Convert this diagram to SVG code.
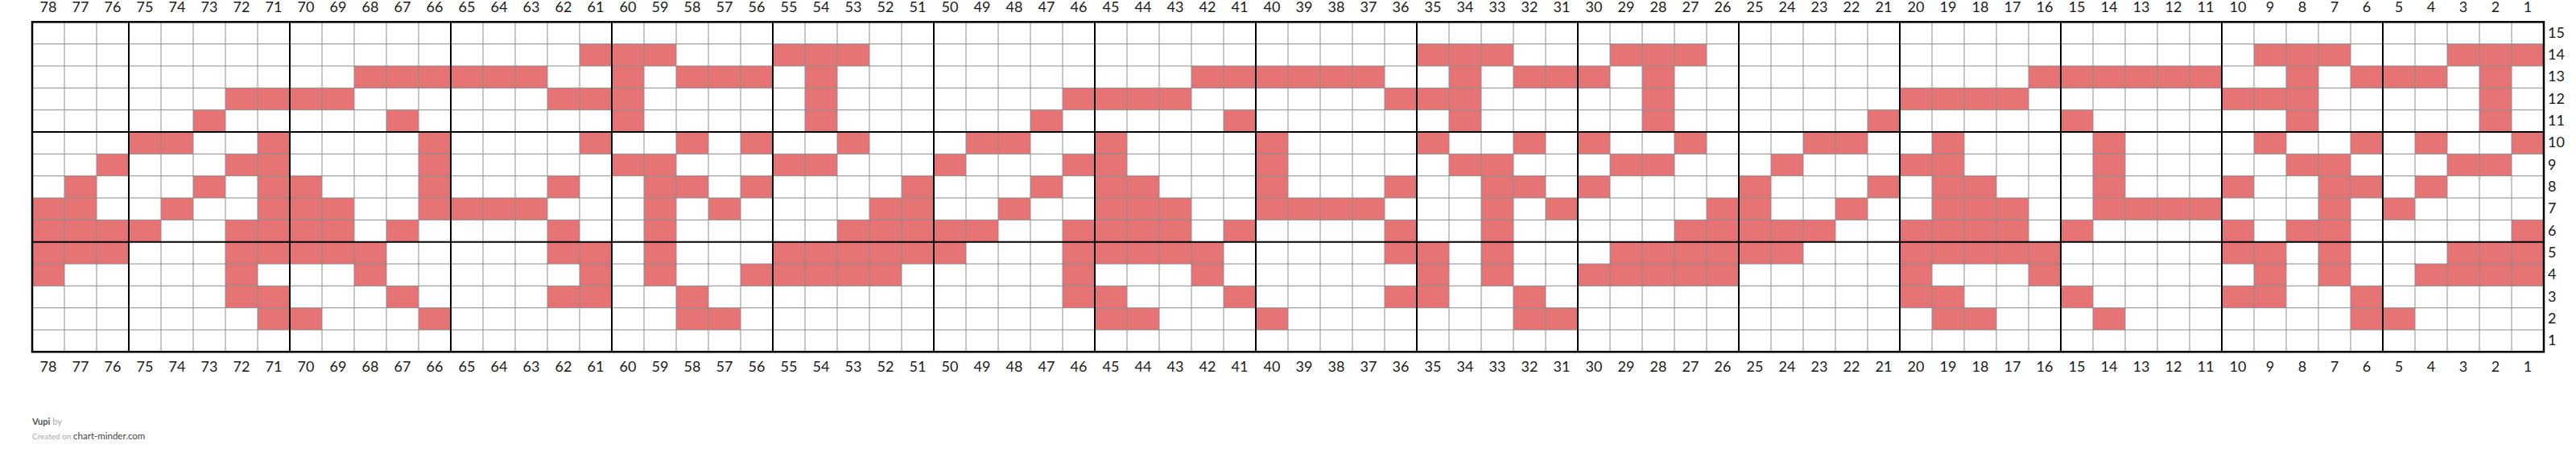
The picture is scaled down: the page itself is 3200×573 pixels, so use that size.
<svg xmlns="http://www.w3.org/2000/svg" width="3200" height="573" viewBox="0 0 3200 573">
<style>
.f{fill:#e57373}
.thin{stroke:#8c8c8c;stroke-width:1;fill:none}
.thick{stroke:#000;stroke-width:2;fill:none}
.lbl{font-family:Lato,"Liberation Sans",sans-serif;font-size:18px;fill:#1a1a1a}
.ct{text-anchor:middle}
.ft{font-family:Lato,"Liberation Sans",sans-serif}
</style>
<defs><rect id="c" width="40" height="27.333"/></defs>
<rect x="0" y="0" width="3200" height="573" fill="#fff"/>
<g id="cells" class="f">
<g id="row14" transform="translate(0,54.667)"><use href="#c" x="720"/><use href="#c" x="760"/><use href="#c" x="800"/><use href="#c" x="960"/><use href="#c" x="1000"/><use href="#c" x="1040"/><use href="#c" x="1760"/><use href="#c" x="1800"/><use href="#c" x="1840"/><use href="#c" x="2000"/><use href="#c" x="2040"/><use href="#c" x="2080"/><use href="#c" x="2800"/><use href="#c" x="2840"/><use href="#c" x="2880"/><use href="#c" x="3040"/><use href="#c" x="3080"/><use href="#c" x="3120"/></g>
<g id="row13" transform="translate(0,82)"><use href="#c" x="440"/><use href="#c" x="480"/><use href="#c" x="520"/><use href="#c" x="560"/><use href="#c" x="600"/><use href="#c" x="640"/><use href="#c" x="760"/><use href="#c" x="840"/><use href="#c" x="880"/><use href="#c" x="920"/><use href="#c" x="1000"/><use href="#c" x="1480"/><use href="#c" x="1520"/><use href="#c" x="1560"/><use href="#c" x="1600"/><use href="#c" x="1640"/><use href="#c" x="1680"/><use href="#c" x="1800"/><use href="#c" x="1880"/><use href="#c" x="1920"/><use href="#c" x="1960"/><use href="#c" x="2040"/><use href="#c" x="2520"/><use href="#c" x="2560"/><use href="#c" x="2600"/><use href="#c" x="2640"/><use href="#c" x="2680"/><use href="#c" x="2720"/><use href="#c" x="2840"/><use href="#c" x="2920"/><use href="#c" x="2960"/><use href="#c" x="3000"/><use href="#c" x="3080"/></g>
<g id="row12" transform="translate(0,109.333)"><use href="#c" x="280"/><use href="#c" x="320"/><use href="#c" x="360"/><use href="#c" x="400"/><use href="#c" x="680"/><use href="#c" x="720"/><use href="#c" x="760"/><use href="#c" x="1000"/><use href="#c" x="1320"/><use href="#c" x="1360"/><use href="#c" x="1400"/><use href="#c" x="1440"/><use href="#c" x="1720"/><use href="#c" x="1760"/><use href="#c" x="1800"/><use href="#c" x="2040"/><use href="#c" x="2360"/><use href="#c" x="2400"/><use href="#c" x="2440"/><use href="#c" x="2480"/><use href="#c" x="2760"/><use href="#c" x="2800"/><use href="#c" x="2840"/><use href="#c" x="3080"/></g>
<g id="row11" transform="translate(0,136.667)"><use href="#c" x="240"/><use href="#c" x="480"/><use href="#c" x="760"/><use href="#c" x="1000"/><use href="#c" x="1280"/><use href="#c" x="1520"/><use href="#c" x="1800"/><use href="#c" x="2040"/><use href="#c" x="2320"/><use href="#c" x="2560"/><use href="#c" x="2840"/><use href="#c" x="3080"/></g>
<g id="row10" transform="translate(0,164)"><use href="#c" x="160"/><use href="#c" x="200"/><use href="#c" x="320"/><use href="#c" x="520"/><use href="#c" x="720"/><use href="#c" x="840"/><use href="#c" x="920"/><use href="#c" x="1040"/><use href="#c" x="1200"/><use href="#c" x="1240"/><use href="#c" x="1360"/><use href="#c" x="1560"/><use href="#c" x="1760"/><use href="#c" x="1880"/><use href="#c" x="1960"/><use href="#c" x="2080"/><use href="#c" x="2240"/><use href="#c" x="2280"/><use href="#c" x="2400"/><use href="#c" x="2600"/><use href="#c" x="2800"/><use href="#c" x="2920"/><use href="#c" x="3000"/><use href="#c" x="3120"/></g>
<g id="row9" transform="translate(0,191.333)"><use href="#c" x="120"/><use href="#c" x="280"/><use href="#c" x="320"/><use href="#c" x="520"/><use href="#c" x="760"/><use href="#c" x="800"/><use href="#c" x="960"/><use href="#c" x="1000"/><use href="#c" x="1160"/><use href="#c" x="1320"/><use href="#c" x="1360"/><use href="#c" x="1560"/><use href="#c" x="1800"/><use href="#c" x="1840"/><use href="#c" x="2000"/><use href="#c" x="2040"/><use href="#c" x="2200"/><use href="#c" x="2360"/><use href="#c" x="2400"/><use href="#c" x="2600"/><use href="#c" x="2840"/><use href="#c" x="2880"/><use href="#c" x="3040"/><use href="#c" x="3080"/></g>
<g id="row8" transform="translate(0,218.667)"><use href="#c" x="80"/><use href="#c" x="240"/><use href="#c" x="320"/><use href="#c" x="360"/><use href="#c" x="520"/><use href="#c" x="680"/><use href="#c" x="800"/><use href="#c" x="840"/><use href="#c" x="920"/><use href="#c" x="1120"/><use href="#c" x="1280"/><use href="#c" x="1360"/><use href="#c" x="1400"/><use href="#c" x="1560"/><use href="#c" x="1720"/><use href="#c" x="1840"/><use href="#c" x="1880"/><use href="#c" x="1960"/><use href="#c" x="2160"/><use href="#c" x="2320"/><use href="#c" x="2400"/><use href="#c" x="2440"/><use href="#c" x="2600"/><use href="#c" x="2760"/><use href="#c" x="2880"/><use href="#c" x="2920"/><use href="#c" x="3000"/></g>
<g id="row7" transform="translate(0,246)"><use href="#c" x="40"/><use href="#c" x="80"/><use href="#c" x="200"/><use href="#c" x="320"/><use href="#c" x="360"/><use href="#c" x="400"/><use href="#c" x="520"/><use href="#c" x="560"/><use href="#c" x="600"/><use href="#c" x="640"/><use href="#c" x="800"/><use href="#c" x="880"/><use href="#c" x="1080"/><use href="#c" x="1120"/><use href="#c" x="1240"/><use href="#c" x="1360"/><use href="#c" x="1400"/><use href="#c" x="1440"/><use href="#c" x="1560"/><use href="#c" x="1600"/><use href="#c" x="1640"/><use href="#c" x="1680"/><use href="#c" x="1840"/><use href="#c" x="1920"/><use href="#c" x="2120"/><use href="#c" x="2160"/><use href="#c" x="2280"/><use href="#c" x="2400"/><use href="#c" x="2440"/><use href="#c" x="2480"/><use href="#c" x="2600"/><use href="#c" x="2640"/><use href="#c" x="2680"/><use href="#c" x="2720"/><use href="#c" x="2880"/><use href="#c" x="2960"/></g>
<g id="row6" transform="translate(0,273.333)"><use href="#c" x="40"/><use href="#c" x="80"/><use href="#c" x="120"/><use href="#c" x="160"/><use href="#c" x="280"/><use href="#c" x="320"/><use href="#c" x="360"/><use href="#c" x="400"/><use href="#c" x="480"/><use href="#c" x="680"/><use href="#c" x="800"/><use href="#c" x="1040"/><use href="#c" x="1080"/><use href="#c" x="1120"/><use href="#c" x="1160"/><use href="#c" x="1200"/><use href="#c" x="1320"/><use href="#c" x="1360"/><use href="#c" x="1400"/><use href="#c" x="1440"/><use href="#c" x="1520"/><use href="#c" x="1720"/><use href="#c" x="1840"/><use href="#c" x="2080"/><use href="#c" x="2120"/><use href="#c" x="2160"/><use href="#c" x="2200"/><use href="#c" x="2240"/><use href="#c" x="2360"/><use href="#c" x="2400"/><use href="#c" x="2440"/><use href="#c" x="2480"/><use href="#c" x="2560"/><use href="#c" x="2760"/><use href="#c" x="2840"/><use href="#c" x="2880"/><use href="#c" x="3120"/></g>
<g id="row5" transform="translate(0,300.667)"><use href="#c" x="40"/><use href="#c" x="80"/><use href="#c" x="120"/><use href="#c" x="280"/><use href="#c" x="320"/><use href="#c" x="360"/><use href="#c" x="400"/><use href="#c" x="440"/><use href="#c" x="680"/><use href="#c" x="720"/><use href="#c" x="800"/><use href="#c" x="960"/><use href="#c" x="1000"/><use href="#c" x="1040"/><use href="#c" x="1080"/><use href="#c" x="1120"/><use href="#c" x="1160"/><use href="#c" x="1320"/><use href="#c" x="1360"/><use href="#c" x="1400"/><use href="#c" x="1440"/><use href="#c" x="1480"/><use href="#c" x="1720"/><use href="#c" x="1760"/><use href="#c" x="1840"/><use href="#c" x="2000"/><use href="#c" x="2040"/><use href="#c" x="2080"/><use href="#c" x="2120"/><use href="#c" x="2160"/><use href="#c" x="2200"/><use href="#c" x="2360"/><use href="#c" x="2400"/><use href="#c" x="2440"/><use href="#c" x="2480"/><use href="#c" x="2520"/><use href="#c" x="2760"/><use href="#c" x="2800"/><use href="#c" x="2880"/><use href="#c" x="3040"/><use href="#c" x="3080"/><use href="#c" x="3120"/></g>
<g id="row4" transform="translate(0,328)"><use href="#c" x="40"/><use href="#c" x="280"/><use href="#c" x="440"/><use href="#c" x="720"/><use href="#c" x="800"/><use href="#c" x="920"/><use href="#c" x="960"/><use href="#c" x="1000"/><use href="#c" x="1040"/><use href="#c" x="1080"/><use href="#c" x="1320"/><use href="#c" x="1480"/><use href="#c" x="1760"/><use href="#c" x="1840"/><use href="#c" x="1960"/><use href="#c" x="2000"/><use href="#c" x="2040"/><use href="#c" x="2080"/><use href="#c" x="2120"/><use href="#c" x="2360"/><use href="#c" x="2520"/><use href="#c" x="2800"/><use href="#c" x="2880"/><use href="#c" x="3000"/><use href="#c" x="3040"/><use href="#c" x="3080"/><use href="#c" x="3120"/></g>
<g id="row3" transform="translate(0,355.333)"><use href="#c" x="280"/><use href="#c" x="320"/><use href="#c" x="480"/><use href="#c" x="680"/><use href="#c" x="720"/><use href="#c" x="840"/><use href="#c" x="1320"/><use href="#c" x="1360"/><use href="#c" x="1520"/><use href="#c" x="1720"/><use href="#c" x="1760"/><use href="#c" x="1880"/><use href="#c" x="2360"/><use href="#c" x="2400"/><use href="#c" x="2560"/><use href="#c" x="2760"/><use href="#c" x="2800"/><use href="#c" x="2920"/></g>
<g id="row2" transform="translate(0,382.667)"><use href="#c" x="320"/><use href="#c" x="360"/><use href="#c" x="520"/><use href="#c" x="840"/><use href="#c" x="880"/><use href="#c" x="1360"/><use href="#c" x="1400"/><use href="#c" x="1560"/><use href="#c" x="1880"/><use href="#c" x="1920"/><use href="#c" x="2400"/><use href="#c" x="2440"/><use href="#c" x="2600"/><use href="#c" x="2920"/><use href="#c" x="2960"/></g>
</g>
<g id="grid">
<path class="thin" d="M80 27.33v410M120 27.33v410M200 27.33v410M240 27.33v410M280 27.33v410M320 27.33v410M400 27.33v410M440 27.33v410M480 27.33v410M520 27.33v410M600 27.33v410M640 27.33v410M680 27.33v410M720 27.33v410M800 27.33v410M840 27.33v410M880 27.33v410M920 27.33v410M1000 27.33v410M1040 27.33v410M1080 27.33v410M1120 27.33v410M1200 27.33v410M1240 27.33v410M1280 27.33v410M1320 27.33v410M1400 27.33v410M1440 27.33v410M1480 27.33v410M1520 27.33v410M1600 27.33v410M1640 27.33v410M1680 27.33v410M1720 27.33v410M1800 27.33v410M1840 27.33v410M1880 27.33v410M1920 27.33v410M2000 27.33v410M2040 27.33v410M2080 27.33v410M2120 27.33v410M2200 27.33v410M2240 27.33v410M2280 27.33v410M2320 27.33v410M2400 27.33v410M2440 27.33v410M2480 27.33v410M2520 27.33v410M2600 27.33v410M2640 27.33v410M2680 27.33v410M2720 27.33v410M2800 27.33v410M2840 27.33v410M2880 27.33v410M2920 27.33v410M3000 27.33v410M3040 27.33v410M3080 27.33v410M3120 27.33v410"/>
<path class="thin" d="M40 54.67h3120M40 82h3120M40 109.33h3120M40 136.67h3120M40 191.33h3120M40 218.67h3120M40 246h3120M40 273.33h3120M40 328h3120M40 355.33h3120M40 382.67h3120M40 410h3120"/>
<path class="thick" d="M160 27.33v410M360 27.33v410M560 27.33v410M760 27.33v410M960 27.33v410M1160 27.33v410M1360 27.33v410M1560 27.33v410M1760 27.33v410M1960 27.33v410M2160 27.33v410M2360 27.33v410M2560 27.33v410M2760 27.33v410M2960 27.33v410M40 164h3120M40 300.67h3120"/>
<rect class="thick" x="40" y="27.33" width="3120" height="410" style="stroke-width:2.5"/>
</g>
<g id="col-labels-top" class="lbl ct">
<text x="60" y="15">78</text><text x="100" y="15">77</text><text x="140" y="15">76</text><text x="180" y="15">75</text><text x="220" y="15">74</text><text x="260" y="15">73</text><text x="300" y="15">72</text><text x="340" y="15">71</text><text x="380" y="15">70</text><text x="420" y="15">69</text><text x="460" y="15">68</text><text x="500" y="15">67</text><text x="540" y="15">66</text><text x="580" y="15">65</text><text x="620" y="15">64</text><text x="660" y="15">63</text><text x="700" y="15">62</text><text x="740" y="15">61</text><text x="780" y="15">60</text><text x="820" y="15">59</text><text x="860" y="15">58</text><text x="900" y="15">57</text><text x="940" y="15">56</text><text x="980" y="15">55</text><text x="1020" y="15">54</text><text x="1060" y="15">53</text><text x="1100" y="15">52</text><text x="1140" y="15">51</text><text x="1180" y="15">50</text><text x="1220" y="15">49</text><text x="1260" y="15">48</text><text x="1300" y="15">47</text><text x="1340" y="15">46</text><text x="1380" y="15">45</text><text x="1420" y="15">44</text><text x="1460" y="15">43</text><text x="1500" y="15">42</text><text x="1540" y="15">41</text><text x="1580" y="15">40</text><text x="1620" y="15">39</text><text x="1660" y="15">38</text><text x="1700" y="15">37</text><text x="1740" y="15">36</text><text x="1780" y="15">35</text><text x="1820" y="15">34</text><text x="1860" y="15">33</text><text x="1900" y="15">32</text><text x="1940" y="15">31</text><text x="1980" y="15">30</text><text x="2020" y="15">29</text><text x="2060" y="15">28</text><text x="2100" y="15">27</text><text x="2140" y="15">26</text><text x="2180" y="15">25</text><text x="2220" y="15">24</text><text x="2260" y="15">23</text><text x="2300" y="15">22</text><text x="2340" y="15">21</text><text x="2380" y="15">20</text><text x="2420" y="15">19</text><text x="2460" y="15">18</text><text x="2500" y="15">17</text><text x="2540" y="15">16</text><text x="2580" y="15">15</text><text x="2620" y="15">14</text><text x="2660" y="15">13</text><text x="2700" y="15">12</text><text x="2740" y="15">11</text><text x="2780" y="15">10</text><text x="2820" y="15">9</text><text x="2860" y="15">8</text><text x="2900" y="15">7</text><text x="2940" y="15">6</text><text x="2980" y="15">5</text><text x="3020" y="15">4</text><text x="3060" y="15">3</text><text x="3100" y="15">2</text><text x="3140" y="15">1</text>
</g>
<g id="col-labels-bottom" class="lbl ct">
<text x="60" y="461.5">78</text><text x="100" y="461.5">77</text><text x="140" y="461.5">76</text><text x="180" y="461.5">75</text><text x="220" y="461.5">74</text><text x="260" y="461.5">73</text><text x="300" y="461.5">72</text><text x="340" y="461.5">71</text><text x="380" y="461.5">70</text><text x="420" y="461.5">69</text><text x="460" y="461.5">68</text><text x="500" y="461.5">67</text><text x="540" y="461.5">66</text><text x="580" y="461.5">65</text><text x="620" y="461.5">64</text><text x="660" y="461.5">63</text><text x="700" y="461.5">62</text><text x="740" y="461.5">61</text><text x="780" y="461.5">60</text><text x="820" y="461.5">59</text><text x="860" y="461.5">58</text><text x="900" y="461.5">57</text><text x="940" y="461.5">56</text><text x="980" y="461.5">55</text><text x="1020" y="461.5">54</text><text x="1060" y="461.5">53</text><text x="1100" y="461.5">52</text><text x="1140" y="461.5">51</text><text x="1180" y="461.5">50</text><text x="1220" y="461.5">49</text><text x="1260" y="461.5">48</text><text x="1300" y="461.5">47</text><text x="1340" y="461.5">46</text><text x="1380" y="461.5">45</text><text x="1420" y="461.5">44</text><text x="1460" y="461.5">43</text><text x="1500" y="461.5">42</text><text x="1540" y="461.5">41</text><text x="1580" y="461.5">40</text><text x="1620" y="461.5">39</text><text x="1660" y="461.5">38</text><text x="1700" y="461.5">37</text><text x="1740" y="461.5">36</text><text x="1780" y="461.5">35</text><text x="1820" y="461.5">34</text><text x="1860" y="461.5">33</text><text x="1900" y="461.5">32</text><text x="1940" y="461.5">31</text><text x="1980" y="461.5">30</text><text x="2020" y="461.5">29</text><text x="2060" y="461.5">28</text><text x="2100" y="461.5">27</text><text x="2140" y="461.5">26</text><text x="2180" y="461.5">25</text><text x="2220" y="461.5">24</text><text x="2260" y="461.5">23</text><text x="2300" y="461.5">22</text><text x="2340" y="461.5">21</text><text x="2380" y="461.5">20</text><text x="2420" y="461.5">19</text><text x="2460" y="461.5">18</text><text x="2500" y="461.5">17</text><text x="2540" y="461.5">16</text><text x="2580" y="461.5">15</text><text x="2620" y="461.5">14</text><text x="2660" y="461.5">13</text><text x="2700" y="461.5">12</text><text x="2740" y="461.5">11</text><text x="2780" y="461.5">10</text><text x="2820" y="461.5">9</text><text x="2860" y="461.5">8</text><text x="2900" y="461.5">7</text><text x="2940" y="461.5">6</text><text x="2980" y="461.5">5</text><text x="3020" y="461.5">4</text><text x="3060" y="461.5">3</text><text x="3100" y="461.5">2</text><text x="3140" y="461.5">1</text>
</g>
<g id="row-labels" class="lbl">
<text x="3165" y="46.7">15</text><text x="3165" y="74">14</text><text x="3165" y="101.3">13</text><text x="3165" y="128.7">12</text><text x="3165" y="156">11</text><text x="3165" y="183.3">10</text><text x="3165" y="210.7">9</text><text x="3165" y="238">8</text><text x="3165" y="265.3">7</text><text x="3165" y="292.7">6</text><text x="3165" y="320">5</text><text x="3165" y="347.3">4</text><text x="3165" y="374.7">3</text><text x="3165" y="402">2</text><text x="3165" y="429.3">1</text>
</g>
<g id="footer" class="ft">
<text x="40" y="528.3" font-size="11"><tspan fill="#555" font-weight="bold">Vupi</tspan><tspan fill="#aaa"> by</tspan></text>
<text x="40" y="545.5"><tspan fill="#aaa" font-size="10">Created on </tspan><tspan fill="#444" font-size="11.5">chart-minder.com</tspan></text>
</g>
</svg>
